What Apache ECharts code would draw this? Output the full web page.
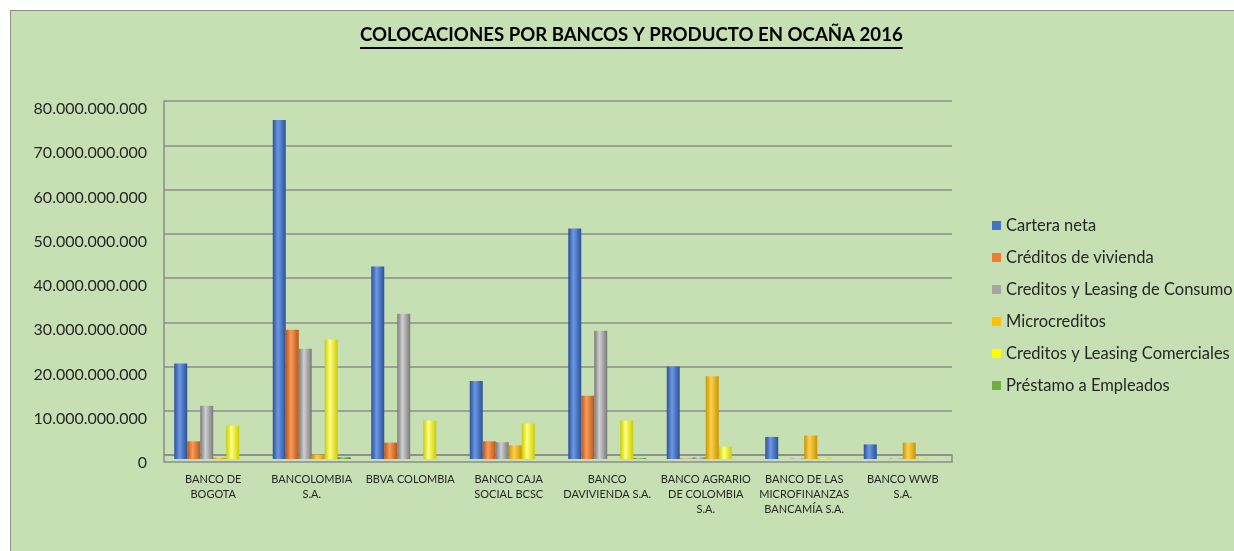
<!DOCTYPE html>
<html>
<head>
<meta charset="utf-8">
<script src="https://cdn.jsdelivr.net/npm/echarts@6/dist/echarts.min.js"></script>
<style>
  html, body { margin: 0; padding: 0; background: #ffffff; width: 1234px; height: 551px; overflow: hidden; }
  #frame { position: absolute; left: 10px; top: 10px; width: 1240px; height: 560px; background: #c6e0b4; border: 1px solid #8c8c8c; }
  #chart { position: absolute; left: 0; top: 0; width: 1234px; height: 551px; }
</style>
</head>
<body>
<div id="frame"></div>
<div id="chart"></div>
<script>
// ---- data ----
const categories = [
  'BANCO DE\nBOGOTA',
  'BANCOLOMBIA\nS.A.',
  'BBVA COLOMBIA',
  'BANCO CAJA\nSOCIAL BCSC',
  'BANCO\nDAVIVIENDA S.A.',
  'BANCO AGRARIO\nDE COLOMBIA\nS.A.',
  'BANCO DE LAS\nMICROFINANZAS\nBANCAMÍA S.A.',
  'BANCO WWB\nS.A.'
];
const seriesNames = [
  'Cartera neta',
  'Créditos de vivienda',
  'Creditos y Leasing de Consumo',
  'Microcreditos',
  'Creditos y Leasing Comerciales',
  'Préstamo a Empleados'
];
const carteraNeta          = [21600000000, 76600000000, 43500000000, 17600000000, 52100000000, 20900000000, 5000000000, 3300000000];
const creditosVivienda     = [4000000000, 29200000000, 3700000000, 4000000000, 14300000000, 100000000, 0, 0];
const creditosConsumo      = [12000000000, 24900000000, 32800000000, 3800000000, 29000000000, 400000000, 100000000, 100000000];
const microcreditos        = [300000000, 1000000000, 0, 3100000000, 0, 18700000000, 5300000000, 3700000000];
const creditosComerciales  = [7500000000, 27000000000, 8700000000, 8000000000, 8700000000, 2800000000, 150000000, 100000000];
const prestamoEmpleados    = [0, 400000000, 0, 0, 200000000, 0, 0, 0];
const yMin = 0, yMax = 80000000000, yInterval = 10000000000;
const titleText = 'COLOCACIONES POR BANCOS Y PRODUCTO EN OCAÑA 2016';

// ---- styling ----
const allValues = [carteraNeta, creditosVivienda, creditosConsumo, microcreditos, creditosComerciales, prestamoEmpleados];
const baseColors = ['#4472c4', '#ed7d31', '#a5a5a5', '#ffc000', '#ffff00', '#70ad47'];
const shades = [
  ['#2c5296', '#6b97e6', '#2c5296'],
  ['#b8571a', '#fb9a58', '#b8571a'],
  ['#7a7a7a', '#cfcfcf', '#7a7a7a'],
  ['#c99400', '#ffd24d', '#c99400'],
  ['#cccc00', '#ffff80', '#cccc00'],
  ['#4a7a2c', '#94cf6c', '#4a7a2c']
];
function grad(s) {
  return new echarts.graphic.LinearGradient(0, 0, 1, 0, [
    { offset: 0, color: s[0] },
    { offset: 0.4, color: s[1] },
    { offset: 1, color: s[2] }
  ]);
}
function fmt(v) {
  return String(Math.round(v)).replace(/\B(?=(\d{3})+(?!\d))/g, '.');
}
const FONT = 'Lato, "Open Sans", sans-serif';

const chart = echarts.init(document.getElementById('chart'), null, { renderer: 'canvas' });
const option = {
  backgroundColor: 'transparent',
  animation: false,
  title: {
    text: '{t|' + titleText + '}\n{u|}',
    left: 360,
    top: 23,
    padding: 0,
    textStyle: {
      rich: {
        t: { fontFamily: FONT, fontSize: 18.6, fontWeight: 'bold', color: '#000000', lineHeight: 24 },
        u: { width: '100%', height: 2, lineHeight: 2, backgroundColor: '#000000' }
      }
    }
  },
  legend: {
    orient: 'vertical',
    left: 992,
    top: 216,
    padding: 0,
    itemWidth: 9,
    itemHeight: 9,
    itemGap: 13,
    icon: 'rect',
    textStyle: { fontFamily: FONT, fontSize: 16.5, color: '#262626', lineHeight: 19 },
    data: seriesNames.map((n, i) => ({ name: n, itemStyle: { color: baseColors[i] } }))
  },
  grid: [
    { left: 164, top: 105, width: 788, height: 354 },
    { left: 164, top: 101, width: 788, height: 354 },
    { left: 164, top: 455, width: 788, height: 7, show: true, borderColor: '#8c8c8c', borderWidth: 1.5, backgroundColor: 'transparent' }
  ],
  xAxis: [
    {
      type: 'category', gridIndex: 0, data: categories,
      axisLine: { show: false }, axisTick: { show: false },
      axisLabel: { interval: 0, margin: 13, fontFamily: FONT, fontSize: 11, lineHeight: 15, color: '#262626' }
    },
    { type: 'category', gridIndex: 1, data: categories, show: false },
    { type: 'category', gridIndex: 2, data: categories, show: false }
  ],
  yAxis: [
    {
      type: 'value', gridIndex: 0, min: yMin, max: yMax, interval: yInterval,
      splitLine: { show: false }, axisLine: { show: false }, axisTick: { show: false },
      axisLabel: { margin: 17, fontFamily: FONT, fontSize: 16, color: '#262626', verticalAlign: 'top', lineHeight: 8, formatter: fmt }
    },
    {
      type: 'value', gridIndex: 1, min: yMin, max: yMax, interval: yInterval,
      splitLine: { show: true, lineStyle: { color: '#8c8c8c', width: 1.5 } },
      axisLine: { show: true, lineStyle: { color: '#8c8c8c', width: 1.5 } },
      axisTick: { show: false }, axisLabel: { show: false }
    },
    { type: 'value', gridIndex: 2, show: false, splitLine: { show: false } }
  ],
  series: allValues.map((vals, i) => ({
    name: seriesNames[i],
    type: 'bar',
    xAxisIndex: 0, yAxisIndex: 0,
    data: vals,
    barWidth: 13,
    barGap: '0%',
    itemStyle: { color: grad(shades[i]) }
  }))
};
chart.setOption(option);
</script>
</body>
</html>
